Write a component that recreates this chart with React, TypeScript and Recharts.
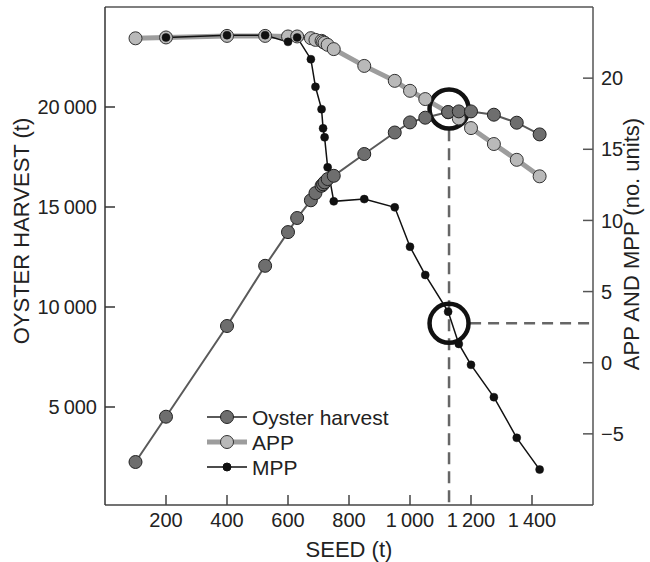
import {
	Label,
	Legend,
	Line,
	LineChart,
	ReferenceDot,
	ReferenceLine,
	XAxis,
	YAxis,
} from "recharts"

// seed (t) for every sampled point
const seed = [
	100, 200, 400, 525, 600, 630, 675, 690, 710, 715, 720, 730, 750, 850, 950,
	1000, 1050, 1125, 1160, 1200, 1275, 1350, 1425,
]
// oyster harvest (t), left axis
const harvest = [
	2250, 4515, 9050, 12060, 13745, 14450, 15335, 15695, 16060, 16135, 16235,
	16395, 16560, 17650, 18725, 19230, 19465, 19750, 19780, 19780, 19615, 19215,
	18630,
]
// average physical product, right axis
const app = [
	22.8, 22.86, 22.97, 22.97, 22.93, 22.93, 22.81, 22.69, 22.62, 22.55, 22.48,
	22.34, 22.04, 20.86, 19.81, 19.11, 18.53, 17.6, 17.17, 16.49, 15.37, 14.26,
	13.1,
]
// marginal physical product, right axis (none at the first point)
const mpp = [
	null, 22.86, 23.02, 23.02, 22.55, 22.86, 21.33, 19.39, 17.82, 16.47, 15.84,
	13.73, 11.34, 11.5, 10.92, 8.15, 6.17, 3.59, 1.32, -0.15, -2.42, -5.28, -7.51,
]

const xTicks = [200, 400, 600, 800, 1000, 1200, 1400]
const leftTicks = [5000, 10000, 15000, 20000]
const rightTicks = [-5, 0, 5, 10, 15, 20]

// annotation: optimum seed, harvest peak, and MPP at the optimum
const optimumSeed = 1128
const peakHarvest = 19900
const optimumMpp = 2.77
const dashTop = 16.4
const dashStartSeed = 1197

const data = seed.map((s, i) => ({
	seed: s,
	harvest: harvest[i],
	app: app[i],
	mpp: mpp[i],
}))

const font = "'Liberation Sans', Arial, sans-serif"
const ink = "#222"

const thousands = (v: number) =>
	v >= 1000
		? `${Math.floor(v / 1000)}\u2009${String(v % 1000).padStart(3, "0")}`
		: String(v)

const signed = (v: number) => (v < 0 ? `\u2212${Math.abs(v)}` : String(v))

const series = [
	{
		name: "Oyster harvest",
		line: "#5a5a5a",
		width: 2,
		r: 6.5,
		fill: "#6e6e6e",
		edge: "#222",
	},
	{
		name: "APP",
		line: "#9d9d9d",
		width: 5,
		r: 6.5,
		fill: "#b9b9b9",
		edge: "#333",
	},
	{ name: "MPP", line: "#111", width: 1.5, r: 4, fill: "#111", edge: "#111" },
]

const renderLegend = () => (
	<svg width={220} height={76} style={{ fontFamily: font, display: "block" }}>
		{series.map((s, i) => (
			<g key={s.name} transform={`translate(0, ${12 + i * 25})`}>
				<line x1={2} x2={42} y1={0} y2={0} stroke={s.line} strokeWidth={s.width} />
				<circle cx={22} cy={0} r={s.r} fill={s.fill} stroke={s.edge} strokeWidth={1} />
				<text x={47} y={0} dominantBaseline="central" fontSize={21} fill={ink}>
					{s.name}
				</text>
			</g>
		))}
	</svg>
)

const title =
	(text: string, dx: number, dy: number, angle: number) => (props: any) => {
		const vb = props.viewBox
		const x = vb.x + dx
		const y = vb.y + dy
		return (
			<text
				x={x}
				y={y}
				transform={angle ? `rotate(${angle} ${x} ${y})` : undefined}
				textAnchor="middle"
				dominantBaseline="central"
				fontSize={22}
				fill={ink}
				style={{ fontFamily: font }}
			>
				{text}
			</text>
		)
	}

const tickStyle = { fontSize: 20, fill: ink, fontFamily: font }

const App = () => (
	<div style={{ position: "absolute", left: 0, top: 0 }}>
		<LineChart
			width={650}
			height={562}
			data={data}
			margin={{ top: 7, right: 0, bottom: 0, left: 0 }}
		>
			<XAxis
				dataKey="seed"
				type="number"
				domain={[0, 1600]}
				ticks={xTicks}
				tickFormatter={thousands}
				allowDataOverflow
				height={57}
				tick={tickStyle}
				tickSize={-10}
				tickMargin={18}
				axisLine={{ stroke: "#444", strokeWidth: 1.5 }}
				tickLine={{ stroke: "#444", strokeWidth: 1.5 }}
			>
				<Label content={title("SEED (t)", 244, 44, 0)} />
			</XAxis>
			<YAxis
				yAxisId="left"
				orientation="left"
				domain={[100, 25000]}
				ticks={leftTicks}
				tickFormatter={thousands}
				allowDataOverflow
				width={105}
				tick={tickStyle}
				tickSize={-10}
				tickMargin={18}
				axisLine={{ stroke: "#333", strokeWidth: 1.5 }}
				tickLine={{ stroke: "#333", strokeWidth: 1.5 }}
			>
				<Label content={title("OYSTER HARVEST (t)", 21, 224, -90)} />
			</YAxis>
			<YAxis
				yAxisId="right"
				orientation="right"
				domain={[-10, 25]}
				ticks={rightTicks}
				tickFormatter={signed}
				allowDataOverflow
				width={57}
				tick={tickStyle}
				tickSize={-10}
				tickMargin={18}
				axisLine={{ stroke: "#555", strokeWidth: 1.5 }}
				tickLine={{ stroke: "#555", strokeWidth: 1.5 }}
			>
				<Label content={title("APP AND MPP (no. units)", 38, 237, -90)} />
			</YAxis>
			<ReferenceLine yAxisId="left" y={25000} stroke="#555" strokeWidth={1.5} />
			<Legend
				layout="vertical"
				align="center"
				verticalAlign="middle"
				content={renderLegend}
				wrapperStyle={{ left: 205, top: 405, width: 220 }}
			/>
			<ReferenceLine
				yAxisId="right"
				segment={[
					{ x: optimumSeed, y: dashTop },
					{ x: optimumSeed, y: -10 },
				]}
				stroke="#666"
				strokeWidth={2.5}
				strokeDasharray="12 7"
			/>
			<ReferenceLine
				yAxisId="right"
				segment={[
					{ x: dashStartSeed, y: optimumMpp },
					{ x: 1600, y: optimumMpp },
				]}
				stroke="#666"
				strokeWidth={2.5}
				strokeDasharray="11 7"
			/>
			<Line
				yAxisId="right"
				dataKey="app"
				type="linear"
				stroke={series[1].line}
				strokeWidth={series[1].width}
				dot={{ r: series[1].r, fill: series[1].fill, stroke: series[1].edge, strokeWidth: 1 }}
				isAnimationActive={false}
			/>
			<Line
				yAxisId="left"
				dataKey="harvest"
				type="linear"
				stroke={series[0].line}
				strokeWidth={series[0].width}
				dot={{ r: series[0].r, fill: series[0].fill, stroke: series[0].edge, strokeWidth: 1 }}
				isAnimationActive={false}
			/>
			<Line
				yAxisId="right"
				dataKey="mpp"
				type="linear"
				stroke={series[2].line}
				strokeWidth={series[2].width}
				dot={{ r: series[2].r, fill: series[2].fill, stroke: series[2].edge, strokeWidth: 0.5 }}
				isAnimationActive={false}
			/>
			<ReferenceDot
				yAxisId="left"
				x={optimumSeed}
				y={peakHarvest}
				r={19.5}
				fill="none"
				stroke="#111"
				strokeWidth={4.5}
			/>
			<ReferenceDot
				yAxisId="right"
				x={optimumSeed}
				y={optimumMpp}
				r={19.5}
				fill="none"
				stroke="#111"
				strokeWidth={4.5}
			/>
		</LineChart>
	</div>
)

export default App
